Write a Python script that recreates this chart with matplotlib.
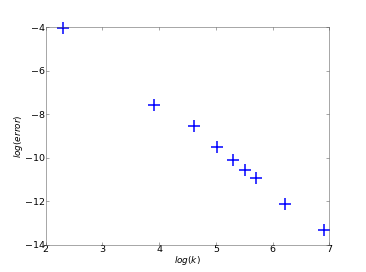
import matplotlib
matplotlib.use('Agg')
import matplotlib.pyplot as plt

# log(k) and log(error)
log_k = [2.30, 3.91, 4.61, 5.01, 5.30, 5.52, 5.70, 6.21, 6.91]
log_err = [-4.02, -7.59, -8.54, -9.51, -10.12, -10.55, -10.92, -12.11, -13.32]

dpi = 45.75
fig = plt.figure(figsize=(366 / dpi, 272 / dpi), dpi=dpi, facecolor='white')
ax = fig.add_subplot(111)
fig.subplots_adjust(left=0.125, right=0.9, bottom=0.1, top=0.9)

ax.plot(log_k, log_err, linestyle='none', marker='+', color='blue',
        markersize=18, markeredgewidth=2.4, clip_on=False)

ax.set_xlim(2, 7)
ax.set_ylim(-14, -4)
ax.set_xticks([2, 3, 4, 5, 6, 7])
ax.set_yticks([-14, -12, -10, -8, -6, -4])
ax.tick_params(direction='in', top=True, right=True, length=4, labelsize=15,
               color='#555555')
ax.tick_params(axis='x', pad=1)
ax.tick_params(axis='y', pad=0.5)
for s in ax.spines.values():
    s.set_color('#555555')

ax.set_xlabel('$log(k)$', fontsize=14, labelpad=0)
ax.set_ylabel('$log(error)$', fontsize=14, labelpad=1)

fig.savefig('out.png', dpi=dpi, facecolor='white')
